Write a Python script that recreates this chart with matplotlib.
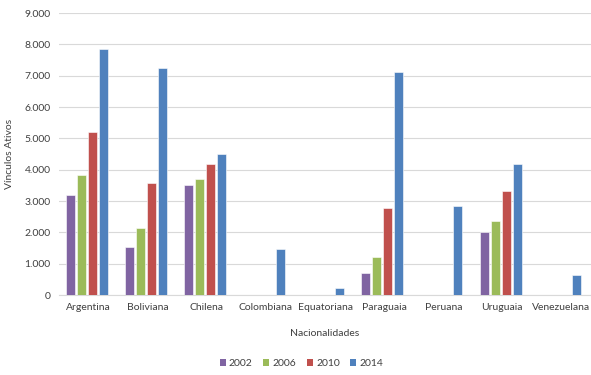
import matplotlib
matplotlib.use("Agg")
import matplotlib.pyplot as plt
import numpy as np
from matplotlib.patches import Patch
from matplotlib.ticker import FuncFormatter
from matplotlib import font_manager

names = {f.name for f in font_manager.fontManager.ttflist}
fam = 'Liberation Sans Narrow' if 'Liberation Sans Narrow' in names else 'Lato'
plt.rcParams['font.family'] = [fam, 'DejaVu Sans']

categories = ["Argentina", "Boliviana", "Chilena", "Colombiana", "Equatoriana",
              "Paraguaia", "Peruana", "Uruguaia", "Venezuelana"]
years = ["2002", "2006", "2010", "2014"]
v2002 = [3200, 1530, 3520, 0, 0, 710, 0, 2000, 0]
v2006 = [3840, 2150, 3720, 0, 0, 1230, 0, 2360, 0]
v2010 = [5210, 3570, 4180, 0, 0, 2770, 0, 3330, 0]
v2014 = [7840, 7260, 4500, 1480, 220, 7120, 2830, 4200, 640]
series = [v2002, v2006, v2010, v2014]
colors = ["#8064A2", "#9BBB59", "#C0504D", "#4F81BD"]

fig = plt.figure(figsize=(5.91, 3.75), dpi=100)
ax = fig.add_axes([0.1, 0.213, 0.9, 0.752])

x = np.arange(len(categories))
w = 0.153
step = 0.186
for i, (vals, c) in enumerate(zip(series, colors)):
    ax.bar(x + (i - 1.5) * step - 0.03, vals, width=w, color=c,
           edgecolor='white', linewidth=0.4, zorder=3)

ax.set_xlim(-0.5, len(categories) - 0.5)
ax.set_ylim(0, 9000)
ax.set_yticks(np.arange(0, 9001, 1000))
ax.yaxis.set_major_formatter(FuncFormatter(lambda v, p: f"{int(v):,}".replace(",", ".")))
ax.set_xticks(x)
ax.set_xticklabels(categories)
ax.grid(axis='y', color='#D9D9D9', linewidth=0.8, zorder=0)
for s in ['top', 'right', 'left']:
    ax.spines[s].set_visible(False)
ax.spines['bottom'].set_color('#D9D9D9')
ax.tick_params(axis='both', length=0, labelsize=7.5, colors='#404040', pad=6)
ax.set_xlabel("Nacionalidades", fontsize=7.5, color='#404040', labelpad=12)
ax.set_ylabel("Vínculos Ativos", fontsize=7.5, color='#404040', labelpad=8)

handles = [Patch(facecolor=c, edgecolor='none') for c in colors]
fig.legend(handles, years, loc='center', bbox_to_anchor=(0.51, 0.03), ncol=4,
           frameon=False, fontsize=7.5, handlelength=0.6, handleheight=0.6,
           handletextpad=0.3, columnspacing=1.0, labelcolor='#404040')

fig.savefig("out.png", dpi=100)
